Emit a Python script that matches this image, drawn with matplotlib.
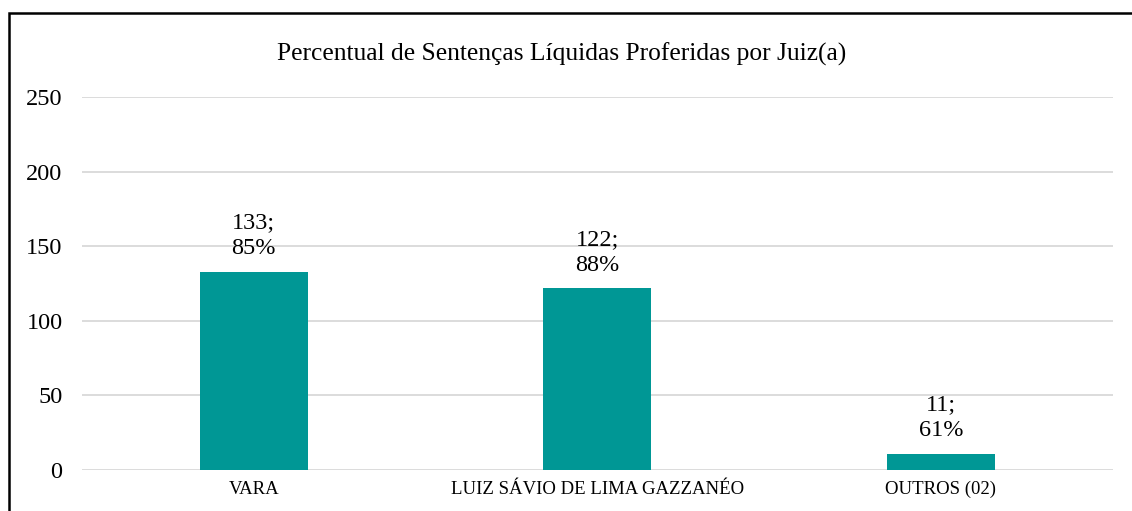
import matplotlib.pyplot as plt
from matplotlib.patches import Rectangle

# dados
categorias = ['VARA', 'LUIZ SÁVIO DE LIMA GAZZANÉO', 'OUTROS (02)']
sentencas = [133, 122, 11]
percentuais = ['85%', '88%', '61%']

plt.rcParams['font.family'] = ['Liberation Serif', 'DejaVu Serif']

fig = plt.figure(figsize=(11.32, 5.11), dpi=100)
ax = fig.add_axes([0.0724, 0.0802, 0.9106, 0.7298])

x = range(len(categorias))
ax.bar(x, sentencas, width=0.314, color='#009795', zorder=3)

for i, (v, p) in enumerate(zip(sentencas, percentuais)):
    ax.annotate(f'{v};\n{p}', (i, v), xytext=(0, 9), textcoords='offset points',
                ha='center', va='bottom', fontsize=17.5, linespacing=1.3)

ax.set_xlim(-0.5, len(categorias) - 0.5)
ax.set_ylim(0, 250)
ax.set_yticks(range(0, 251, 50))
ax.set_xticks(list(x))
ax.set_xticklabels(categorias, fontsize=13.5)
ax.tick_params(axis='y', labelsize=17.5, length=0, pad=14)
ax.tick_params(axis='x', length=0, pad=8)
ax.grid(axis='y', color='#d9d9d9', linewidth=1.3, zorder=0)
for s in ax.spines.values():
    s.set_visible(False)

fig.text(0.496, 0.893, 'Percentual de Sentenças Líquidas Proferidas por Juiz(a)',
         ha='center', va='center', fontsize=18.4)

# moldura
fig.patches.append(Rectangle((9 / 1132, -0.1), 1.2, 1.1 - 13 / 511, transform=fig.transFigure,
                             fill=False, edgecolor='black', linewidth=1.8, clip_on=False))

fig.savefig('out.png', dpi=100)
